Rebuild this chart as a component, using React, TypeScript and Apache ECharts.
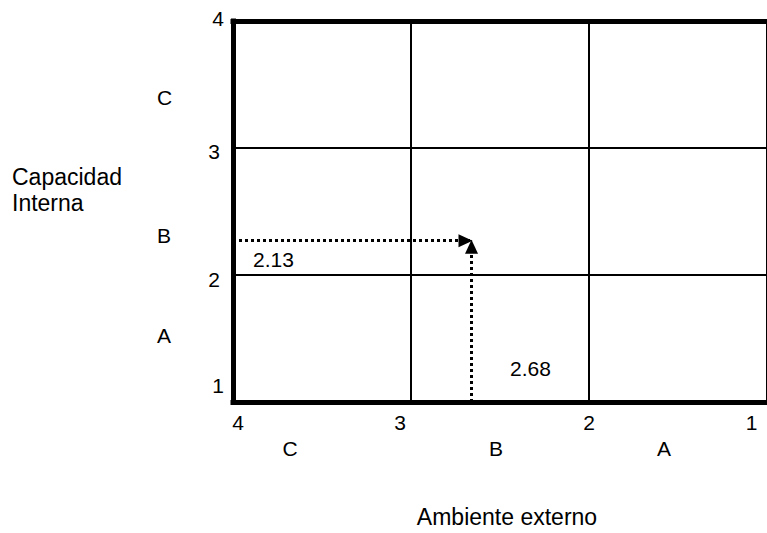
import React, { useEffect, useRef } from "react";
import * as echarts from "echarts";

// ---- data ----
const xTicks = [4, 3, 2, 1];
const yTicks = [1, 2, 3, 4];
const pointX = 2.66; // position of the arrows' meeting point
const pointY = 2.27;
const xValueLabel = "2.68";
const yValueLabel = "2.13";
const yLetters = ["C", "B", "A"];
const xLetters = ["C", "B", "A"];
const yTitle = "Capacidad\nInterna";
const xTitle = "Ambiente externo";

const FONT = "'Liberation Sans', Arial, sans-serif";

export default function App() {
  const ref = useRef<HTMLDivElement>(null);

  useEffect(() => {
    if (!ref.current) return;
    const chart = echarts.init(ref.current, undefined, { renderer: "svg" });

    const base = { fontSize: 21, fontFamily: FONT, color: "#000" };
    const xRich: any = {
      x4: { ...base, padding: [0, 0, 0, 10] },
      x3: { ...base, padding: [0, 22, 0, 0] },
      x2: { ...base },
      x1: { ...base, padding: [0, 31, 0, 0] },
    };
    const yRich: any = {
      y4: { ...base, padding: [0, 0, 6, 0] },
      y3: { ...base, padding: [6, 4, 0, 0] },
      y2: { ...base, padding: [8, 4, 0, 0] },
      y1: { ...base, padding: [0, 0, 34, 0] },
    };

    const thick = { color: "#000", width: 5, cap: "square" as const };
    const thin = { color: "#000", width: 2 };

    const textStyle = (t: string, fs = 21) => ({
      text: t,
      fontSize: fs,
      fontFamily: FONT,
      fill: "#000",
    });

    const leftLetterY = [97, 235, 335];
    const bottomLetterX = [290, 496, 664];

    const arrowEnd = {
      symbol: "triangle",
      symbolSize: [13, 14],
      symbolOffset: [0, 6],
      itemStyle: { color: "#000" },
    };

    chart.setOption({
      animation: false,
      color: ["#000"],
      grid: { left: 233, top: 21, bottom: 131, right: -6, show: false },
      xAxis: [
        {
          type: "value",
          min: 1,
          max: 4,
          interval: 1,
          inverse: true,
          position: "bottom",
          axisLine: { show: true, onZero: false, lineStyle: thick },
          axisTick: { show: false },
          splitLine: { show: true, lineStyle: thin },
          axisLabel: {
            margin: 10,
            showMinLabel: true,
            showMaxLabel: true,
            formatter: (v: number) => `{x${v}|${v}}`,
            rich: xRich,
          },
        },
        {
          type: "value",
          min: 1,
          max: 4,
          interval: 1,
          inverse: true,
          position: "top",
          axisLine: { show: true, onZero: false, lineStyle: thick },
          axisTick: { show: false },
          splitLine: { show: false },
          axisLabel: { show: false },
        },
      ],
      yAxis: {
        type: "value",
        min: 1,
        max: 4,
        interval: 1,
        axisLine: { show: true, onZero: false, lineStyle: thick },
        axisTick: { show: false },
        splitLine: { show: true, lineStyle: thin },
        axisLabel: {
          margin: 9,
          showMinLabel: true,
          showMaxLabel: true,
          formatter: (v: number) => `{y${v}|${v}}`,
          rich: yRich,
        },
      },
      series: [
        {
          type: "line",
          data: [],
          markLine: {
            silent: true,
            symbol: ["none", "triangle"],
            symbolSize: 13,
            itemStyle: { color: "#000" },
            label: { show: false },
            lineStyle: { color: "#000", width: 3, type: "dotted" },
            data: [
              [
                { coord: [xTicks[0], pointY], symbol: "none" },
                { coord: [pointX, pointY], ...arrowEnd },
              ],
              [
                { coord: [pointX, yTicks[0]], symbol: "none" },
                { coord: [pointX, pointY], ...arrowEnd },
              ],
            ],
          },
        },
      ],
      graphic: [
        {
          type: "text",
          left: 12,
          top: 164,
          style: { ...textStyle(yTitle, 23), lineHeight: 26 },
        },
        {
          type: "text",
          x: 507,
          y: 517,
          style: { ...textStyle(xTitle, 23), align: "center", verticalAlign: "middle" },
        },
        ...yLetters.map((l, i) => ({
          type: "text",
          x: 157,
          y: leftLetterY[i],
          style: { ...textStyle(l), align: "left", verticalAlign: "middle" },
        })),
        ...xLetters.map((l, i) => ({
          type: "text",
          x: bottomLetterX[i],
          y: 448,
          style: { ...textStyle(l), align: "center", verticalAlign: "middle" },
        })),
        {
          type: "text",
          x: 253,
          y: 259.5,
          style: { ...textStyle(yValueLabel), align: "left", verticalAlign: "middle" },
        },
        {
          type: "text",
          x: 510,
          y: 368.5,
          style: { ...textStyle(xValueLabel), align: "left", verticalAlign: "middle" },
        },
      ],
    });

    return () => chart.dispose();
  }, []);

  return (
    <div
      ref={ref}
      style={{ position: "absolute", left: 0, top: 0, width: 767, height: 533 }}
    />
  );
}
